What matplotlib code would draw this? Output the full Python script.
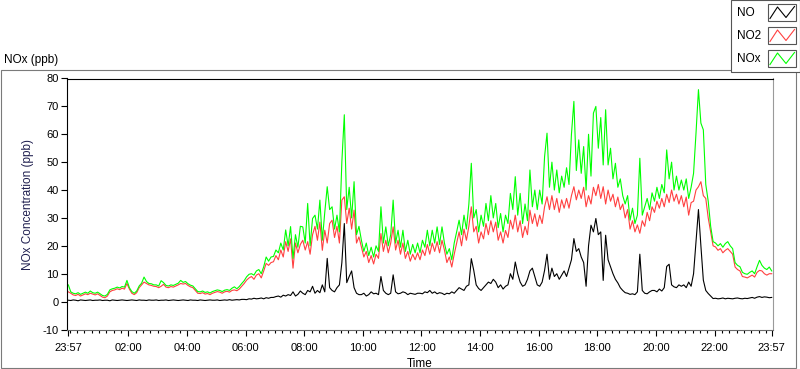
import matplotlib
matplotlib.use('Agg')
import matplotlib.pyplot as plt
from matplotlib.patches import Rectangle
from matplotlib.lines import Line2D
import numpy as np

# ---------------- data (5-minute samples starting 23:57) ----------------
no = [
 0.5,0.4,0.6,0.5,0.3,0.6,0.5,0.4,0.5,0.6,0.4,0.5,
 0.5,0.6,0.4,0.5,0.5,0.3,0.6,0.5,0.4,0.5,0.6,0.5,
 0.4,0.5,0.6,0.5,0.4,0.6,0.5,0.5,0.4,0.6,0.5,0.5,
 0.6,0.4,0.5,0.5,0.6,0.4,0.5,0.6,0.5,0.4,0.5,0.6,
 0.5,0.4,0.6,0.5,0.5,0.4,0.6,0.5,0.4,0.5,0.6,0.5,
 0.5,0.6,0.4,0.5,0.6,0.5,0.7,0.5,0.6,0.7,0.6,0.8,
 0.8,0.7,1.0,0.9,1.2,1.0,1.1,1.3,1.0,1.4,1.2,1.5,
 1.5,1.8,2.0,1.6,2.3,2.0,2.5,2.2,3.5,2.0,2.6,3.8,
 3.0,2.5,4.0,3.5,5.5,3.0,4.0,3.2,6.0,3.5,15.5,5.0,
 4.0,3.5,5.0,6.0,14.0,28.0,6.8,9.0,11.0,5.0,3.0,2.5,
 2.5,3.0,2.0,2.5,3.5,2.8,3.0,2.5,9.0,4.0,3.0,2.5,
 3.0,9.6,3.5,2.8,3.0,3.5,3.2,2.5,3.0,2.8,2.6,3.0,
 3.0,2.8,3.5,3.2,4.0,3.0,3.5,2.8,3.2,3.0,2.5,3.0,
 2.8,3.5,3.0,4.0,5.0,4.5,4.0,5.5,6.0,15.4,11.2,6.0,
 4.7,4.0,5.0,6.0,7.0,6.5,8.0,7.0,5.0,6.0,4.5,5.5,
 6.0,10.0,8.0,14.2,10.0,7.0,5.5,6.0,8.0,11.0,12.0,9.0,
 6.0,5.5,7.0,11.2,17.0,8.0,12.0,9.0,10.0,8.0,9.5,11.0,
 9.0,12.0,15.0,22.6,18.0,19.0,16.0,14.0,5.5,20.0,27.4,25.0,
 29.8,24.0,25.0,7.6,23.8,15.0,12.5,10.0,8.0,6.7,5.0,4.0,
 3.2,3.0,2.6,2.8,2.5,3.5,17.0,4.0,3.0,2.8,3.5,4.0,
 4.0,3.5,4.5,3.8,5.0,12.6,13.4,6.0,5.3,5.0,6.0,5.5,
 6.0,5.0,7.0,5.5,10.0,21.4,33.0,20.0,7.7,4.0,2.9,2.0,
 1.1,1.2,1.0,1.1,1.3,1.0,1.2,1.1,1.0,1.2,1.3,1.1,
 1.0,1.2,1.1,1.3,1.5,1.2,1.6,1.8,1.5,1.7,1.6,1.4,
 1.5]

no2 = [
 3.5,3.0,2.4,2.2,2.6,2.0,2.4,2.8,2.5,3.0,2.7,2.4,
 2.8,2.2,1.6,1.4,2.0,3.5,4.0,4.2,4.6,4.3,4.8,4.5,
 6.5,4.5,3.0,2.5,3.2,5.0,6.0,7.0,6.5,6.0,5.8,5.5,
 5.4,5.0,5.5,6.2,5.2,5.0,5.4,5.2,5.6,6.0,6.5,6.3,
 6.5,5.8,5.3,5.0,4.0,3.0,2.9,3.2,2.7,2.9,2.5,3.0,
 3.3,3.6,3.4,3.0,3.5,3.7,3.4,4.0,4.2,3.9,4.5,5.5,
 6.5,7.7,8.5,9.0,8.0,9.5,10.0,8.5,11.0,13.7,13.0,14.0,
 14.3,16.5,15.0,18.5,16.0,21.5,18.0,22.5,12.0,21.0,17.5,20.5,
 22.0,18.5,21.5,17.0,24.0,27.0,22.0,28.5,18.4,25.6,21.0,28.0,
 29.2,23.0,27.0,21.0,36.4,37.6,28.0,33.5,26.0,32.8,21.0,23.2,
 19.6,16.0,18.0,14.0,16.5,13.5,17.0,15.5,24.4,18.0,22.0,17.5,
 21.0,26.8,18.5,22.0,17.0,21.0,15.5,18.0,14.5,17.0,15.0,17.5,
 15.0,18.5,16.5,20.5,17.0,21.0,18.0,21.5,17.5,22.0,18.5,14.0,
 16.0,12.4,17.0,21.0,25.0,20.0,26.0,22.0,27.0,34.0,25.0,27.0,
 21.0,25.0,22.5,28.0,24.0,29.0,25.0,28.5,22.0,25.0,21.0,25.5,
 23.0,29.2,26.0,31.0,25.0,29.0,23.0,27.0,24.0,32.8,28.0,31.5,
 27.0,31.0,28.0,34.0,37.6,33.0,38.0,33.0,37.0,32.0,36.5,33.5,
 37.0,33.5,38.0,41.2,36.5,40.0,37.0,41.0,34.0,38.0,35.0,41.0,
 38.0,42.0,37.0,41.2,35.0,40.0,36.0,38.5,34.0,37.5,33.0,35.0,
 30.0,33.0,26.0,29.0,25.0,27.5,24.5,29.0,27.0,32.0,29.0,34.0,
 32.0,36.0,33.5,37.0,34.0,38.5,35.5,40.0,36.0,38.5,35.0,38.0,
 34.0,37.5,31.0,35.5,36.0,40.0,41.2,43.0,38.0,37.0,30.0,25.0,
 20.0,19.6,18.4,19.0,17.5,18.4,19.0,18.0,17.0,12.4,11.5,11.0,
 9.0,8.8,8.5,9.0,9.5,8.8,10.5,11.2,11.0,10.0,9.5,10.0,
 10.0]

nox = [
 6.0,3.5,3.0,2.8,3.2,2.6,3.0,3.4,3.0,3.8,3.2,3.0,
 3.4,2.8,2.2,2.0,2.6,4.2,4.6,4.8,5.2,4.9,5.4,5.2,
 7.6,5.0,3.6,3.0,3.8,5.6,6.6,8.8,7.2,6.5,6.4,6.0,
 6.0,5.6,7.5,6.8,5.8,5.6,6.0,5.8,6.2,6.6,7.6,6.9,
 7.2,6.4,5.9,5.6,4.6,3.6,3.5,3.8,3.3,3.5,3.1,3.6,
 3.9,4.2,4.0,3.6,4.1,4.3,4.0,4.8,5.3,4.6,5.4,6.5,
 7.5,8.9,9.8,10.0,9.5,11.0,11.5,10.0,12.5,16.0,14.5,16.0,
 16.2,18.5,17.5,21.0,18.5,25.7,20.0,26.9,15.5,24.0,19.5,27.0,
 26.8,21.0,35.2,20.0,29.8,31.0,26.0,36.4,22.0,32.0,41.2,33.0,
 34.0,26.0,31.0,25.0,50.2,67.0,33.0,41.0,30.0,43.0,24.0,27.0,
 22.0,18.0,21.0,16.5,19.5,16.0,20.0,18.0,34.0,21.0,26.8,20.0,
 24.0,36.4,21.0,25.6,19.5,25.6,18.0,22.0,17.0,20.5,17.5,21.0,
 17.5,22.0,19.5,25.6,20.0,25.6,21.0,26.8,20.5,26.8,21.0,17.0,
 19.0,15.0,21.0,25.0,29.2,24.0,31.0,26.0,35.0,49.6,30.0,33.0,
 25.0,31.0,27.0,35.2,29.0,38.0,30.0,35.2,26.5,31.6,25.0,31.0,
 28.0,38.8,33.0,44.8,31.0,38.8,28.0,35.0,29.0,47.2,34.0,40.0,
 33.0,40.0,35.0,52.0,60.4,41.0,50.0,40.0,47.2,39.0,45.0,41.0,
 48.0,42.0,60.0,71.8,47.0,58.0,46.0,55.6,40.0,60.0,45.0,67.6,
 70.0,55.0,66.0,49.0,68.8,49.0,55.0,44.0,49.6,41.0,44.0,38.0,
 35.0,38.0,29.2,33.5,28.0,31.0,51.4,31.0,34.0,37.0,33.0,39.0,
 36.0,41.0,37.0,42.0,39.0,54.4,44.0,50.0,40.0,45.0,40.0,43.6,
 40.0,44.0,37.0,41.0,46.0,60.4,76.0,64.0,61.6,42.0,36.0,27.0,
 21.5,21.0,20.0,20.8,19.5,20.8,21.5,20.0,19.0,14.0,13.0,12.5,
 10.5,10.0,9.8,10.5,11.0,10.0,12.5,14.8,13.0,12.0,11.5,12.4,
 11.0]

series_names = ['NO', 'NO2', 'NOx']
series_colors = ['#000000', '#ff4040', '#00ff00']
time_labels = ['23:57', '02:00', '04:00', '06:00', '08:00', '10:00', '12:00',
               '14:00', '16:00', '18:00', '20:00', '22:00', '23:57']
y_ticks = [-10, 0, 10, 20, 30, 40, 50, 60, 70, 80]

# ---------------- layout ----------------
W, H = 800, 369
fig = plt.figure(figsize=(W / 100, H / 100), dpi=100)
fig.patch.set_facecolor('white')
FONT = 'Liberation Sans'

def fx(x):
    return x / W

def fy(y):
    return 1 - y / H

# outer panel frame
fig.add_artist(Rectangle((fx(0.5), fy(367.5)), fx(796) - fx(0.5), fy(69.5) - fy(367.5),
                         transform=fig.transFigure, fill=False, ec='#7a7a7a', lw=0.8))
fig.text(fx(4), fy(60), 'NOx (ppb)', fontsize=8.5, family=FONT, va='center', ha='left')

ax = fig.add_axes([fx(67), fy(329.5), fx(772.5) - fx(67), fy(78.5) - fy(329.5)])
ax.set_facecolor('white')

t = np.arange(len(no)) * 5
ax.plot(t, no, color=series_colors[0], lw=0.8)
ax.plot(t, no2, color=series_colors[1], lw=0.8)
ax.plot(t, nox, color=series_colors[2], lw=0.8)

ax.set_ylim(-10, 80)
ax.set_xlim(-2.7, 1441.6)
ax.set_yticks(y_ticks)
ax.set_yticklabels([str(v) for v in y_ticks], fontsize=8, family=FONT)

def to_min(lbl, i):
    h, m = map(int, lbl.split(':'))
    v = (h * 60 + m - (23 * 60 + 57)) % 1440
    if i == len(time_labels) - 1 and v == 0:
        v = 1440
    return v

major = [to_min(l, i) for i, l in enumerate(time_labels)]
ax.set_xticks(major)
ax.set_xticklabels(time_labels, fontsize=8, family=FONT)
minor = [m for m in range(3, 1440, 15) if m not in major]
ax.set_xticks(minor, minor=True)

ax.tick_params(axis='both', which='major', direction='out', length=4, width=0.8, colors='black', pad=2)
ax.tick_params(axis='x', which='minor', direction='out', length=2.2, width=0.8, colors='black')
ax.tick_params(axis='x', which='major', pad=6)

ax.spines['left'].set_color('black')
ax.spines['top'].set_color('black')
ax.spines['right'].set_color('#9a9a9a')
ax.spines['bottom'].set_color('#6a6a6a')
for s in ax.spines.values():
    s.set_linewidth(0.8)

ax.set_xlabel('Time', fontsize=8.5, family=FONT, labelpad=3)
ax.set_ylabel('NOx Concentration (ppb)', fontsize=8.5, family=FONT, color='#202050', labelpad=6)

# legend box (top right)
fig.add_artist(Rectangle((fx(731), fy(72)), fx(799.5) - fx(731), fy(0) - fy(72),
                         transform=fig.transFigure, fill=True, fc='white', ec='#555555', lw=0.8))
sw_tops = [4, 27, 50]
for name, col, top in zip(series_names, series_colors, sw_tops):
    fig.text(fx(737), fy(top + 9), name, fontsize=8.5, family=FONT, va='center', ha='left')
    fig.add_artist(Rectangle((fx(768), fy(top + 17)), fx(796) - fx(768), fy(top) - fy(top + 17),
                             transform=fig.transFigure, fill=True, fc='white', ec='#555555', lw=0.8))
    xs = [770, 777.5, 786, 794.5]
    ys = [top + 14.5, top + 3, top + 13.5, top + 2.5]
    fig.add_artist(Line2D([fx(v) for v in xs], [fy(v) for v in ys], transform=fig.transFigure,
                          color=col, lw=0.8))

fig.savefig('out.png', dpi=100, facecolor='white')
